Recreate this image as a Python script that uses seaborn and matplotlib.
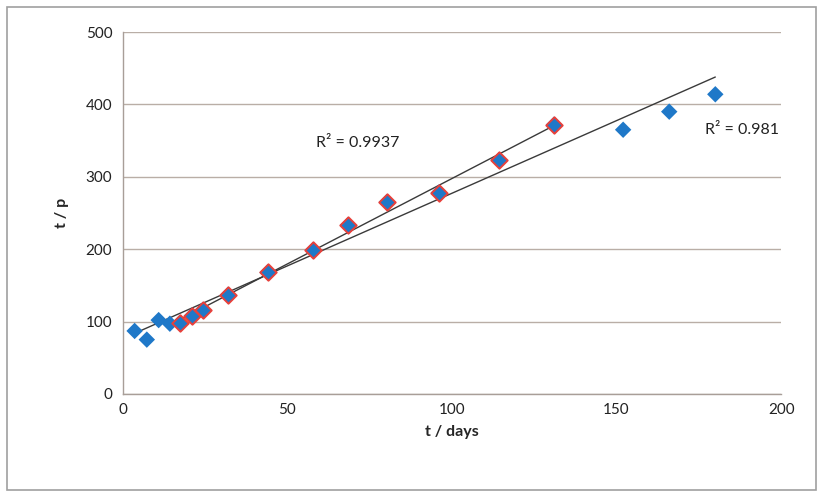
import numpy as np
import pandas as pd
import matplotlib
matplotlib.use("Agg")
import matplotlib.pyplot as plt
import seaborn as sns

# all measured points (t in days, t/p)
t_all = [3.6, 7.3, 10.9, 14.3, 17.3, 21.0, 24.3, 32.0, 44.0, 57.8, 68.4,
         80.2, 96.0, 114.3, 131.0, 152.0, 166.0, 180.0]
tp_all = [87, 75, 102, 97, 98, 108, 116, 137, 168, 199, 233,
          265, 278, 323, 372, 365, 390, 414]

# subset highlighted with red outline (used for the second fit)
t_sel = [17.3, 21.0, 24.3, 32.0, 44.0, 57.8, 68.4, 80.2, 96.0, 114.3, 131.0]
tp_sel = [98, 108, 116, 137, 168, 199, 233, 265, 278, 323, 372]

r2_labels = ["R\u00b2 = 0.9937", "R\u00b2 = 0.981"]
x_ticks = [0, 50, 100, 150, 200]
y_ticks = [0, 100, 200, 300, 400, 500]

df_all = pd.DataFrame({"t": t_all, "tp": tp_all})
df_sel = pd.DataFrame({"t": t_sel, "tp": tp_sel})

sns.set_theme(style="white")
plt.rcParams["font.family"] = ["Lato", "DejaVu Sans"]

fig = plt.figure(figsize=(8.24, 4.93), dpi=100)
ax = fig.add_axes([0.149, 0.201, 0.799, 0.734])

# linear trend lines, each spanning its own series
c_all = np.polyfit(t_all, tp_all, 1)
c_sel = np.polyfit(t_sel, tp_sel, 1)
xa = np.array([min(t_all), max(t_all)])
xs = np.array([min(t_sel), max(t_sel)])
ax.plot(xa, np.polyval(c_all, xa), color="#3a3a3a", lw=1.0, zorder=2)
ax.plot(xs, np.polyval(c_sel, xs), color="#3a3a3a", lw=1.0, zorder=2)

sns.scatterplot(data=df_all, x="t", y="tp", marker="D", s=70, color="#1f78c8",
                edgecolor="none", ax=ax, zorder=3)
sns.scatterplot(data=df_sel, x="t", y="tp", marker="D", s=70, color="#1f78c8",
                edgecolor="#e8403a", linewidth=1.4, ax=ax, zorder=4)

ax.text(58.7, 347, r2_labels[0], fontsize=11.5, color="#222222", va="center")
ax.text(177, 365, r2_labels[1], fontsize=11.5, color="#222222", va="center")

ax.set_xlim(0, 200)
ax.set_ylim(0, 500)
ax.set_xticks(x_ticks)
ax.set_yticks(y_ticks)
ax.yaxis.grid(True, color="#b9aea6", lw=1.0)
ax.set_axisbelow(True)
for s in ["top", "right"]:
    ax.spines[s].set_visible(False)
for s in ["left", "bottom"]:
    ax.spines[s].set_color("#a89e98")
    ax.spines[s].set_linewidth(1.0)
ax.tick_params(axis="both", which="both", length=4, width=1, color="#a89e98",
               labelsize=11, labelcolor="#222222", direction="out")
ax.tick_params(axis="x", direction="inout", length=6)
ax.set_xlabel("t / days", fontsize=11.5, fontweight="bold", labelpad=6)
ax.set_ylabel("t / p", fontsize=11.5, fontweight="bold", labelpad=12)

# outer chart border
fig.patches.append(plt.Rectangle((0.009, 0.006), 0.981, 0.98, transform=fig.transFigure,
                                 fill=False, edgecolor="#a0a0a0", lw=1.2))

fig.savefig("out.png", dpi=100)
